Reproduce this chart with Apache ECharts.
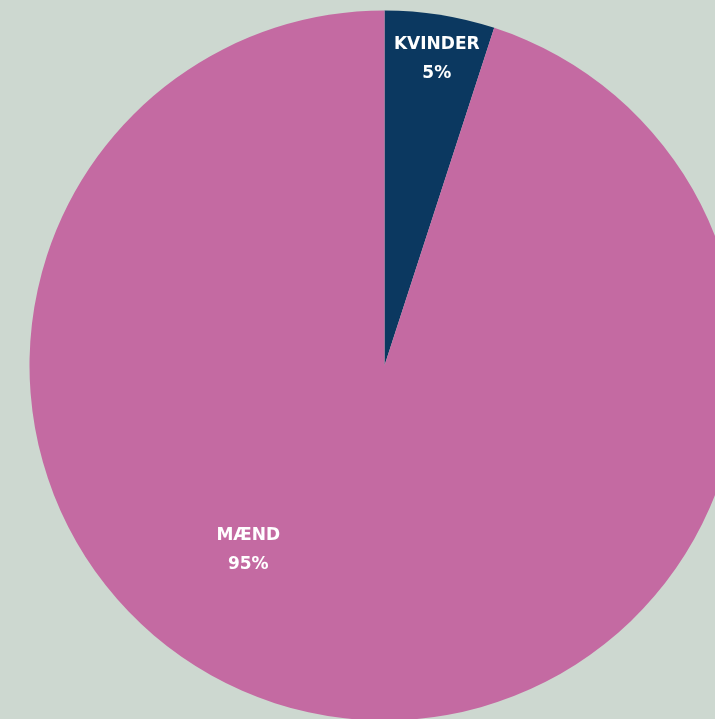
<!DOCTYPE html>
<html>
<head>
<meta charset="utf-8">
<script src="https://cdn.jsdelivr.net/npm/echarts@6/dist/echarts.min.js"></script>
<style>
html,body{margin:0;padding:0;background:#cdd8d0;}
#chart{width:715px;height:719px;}
</style>
</head>
<body>
<div id="chart"></div>
<script>
const categories = ['KVINDER', 'MÆND'];
const values = [5, 95];
const colors = ['#0b3860', '#c46aa2'];
const labelOffsets = [[24, -128], [-108, 6]];

const chart = echarts.init(document.getElementById('chart'));
chart.setOption({
  backgroundColor: '#cdd8d0',
  animation: false,
  series: [{
    type: 'pie',
    center: [384.5, 365.5],
    radius: [0, 355],
    startAngle: 90,
    clockwise: true,
    silent: true,
    labelLine: { show: false },
    data: categories.map((c, i) => ({
      name: c,
      value: values[i],
      itemStyle: { color: colors[i], borderWidth: 0 },
      label: {
        show: true,
        position: 'inside',
        offset: labelOffsets[i],
        formatter: '{b}\n{c}%',
        color: '#ffffff',
        fontFamily: 'DejaVu Sans',
        fontWeight: 'bold',
        fontSize: 17,
        lineHeight: 29,
        align: 'center'
      }
    }))
  }]
});
</script>
</body>
</html>
